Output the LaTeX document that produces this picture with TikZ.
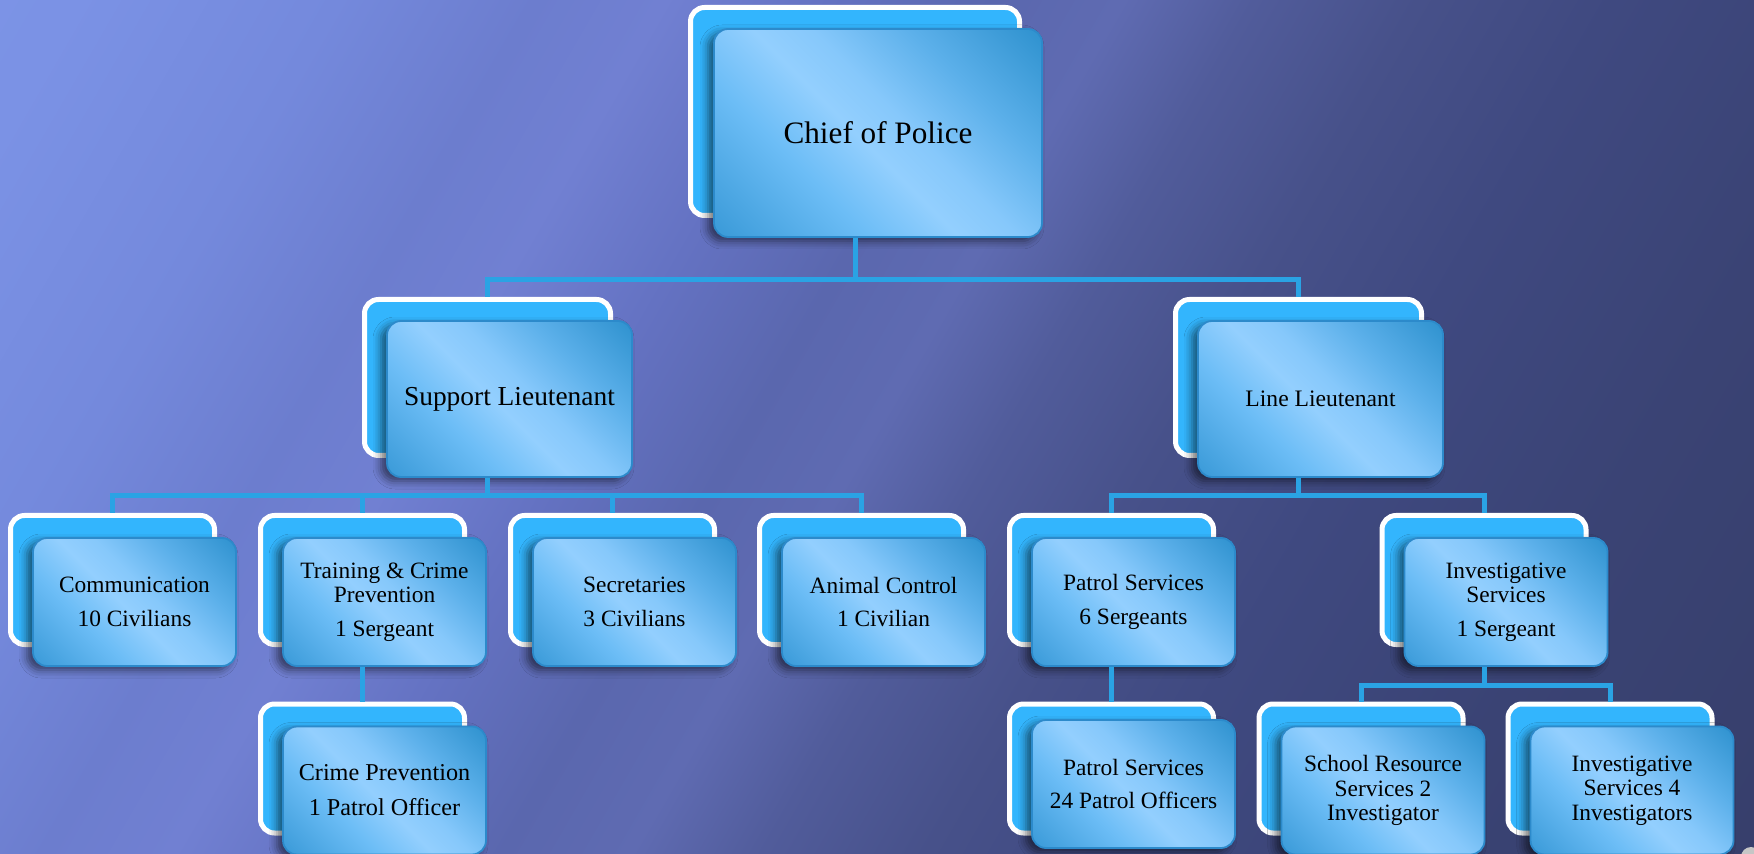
\documentclass[tikz,border=0pt]{standalone}
\usepackage{fontspec}
\setmainfont{Liberation Serif}
\usetikzlibrary{shadows.blur}
\definecolor{backblue}{HTML}{33B5FD}
\definecolor{frontedge}{HTML}{2C8ACB}
\definecolor{connblue}{HTML}{2AA3E4}
\definecolor{fA}{HTML}{3A9AD8}
\definecolor{fB}{HTML}{6CBDF6}
\definecolor{fC}{HTML}{93CFFE}
\definecolor{fD}{HTML}{86C8FB}
\definecolor{fE}{HTML}{5CB0EA}
\definecolor{fF}{HTML}{2F92CF}
\definecolor{bgA}{HTML}{8099EA}
\definecolor{bgB}{HTML}{7B92E5}
\definecolor{bgC}{HTML}{7489DC}
\definecolor{bgD}{HTML}{6C7DCE}
\definecolor{bgE}{HTML}{7180D2}
\definecolor{bgF}{HTML}{6472C2}
\definecolor{bgG}{HTML}{5A67AE}
\definecolor{bgH}{HTML}{5F6BB2}
\definecolor{bgI}{HTML}{515C9B}
\definecolor{bgJ}{HTML}{47518A}
\definecolor{bgK}{HTML}{3F4980}
\definecolor{bgL}{HTML}{3A4374}
\definecolor{bgM}{HTML}{373F6C}
\pgfdeclarehorizontalshading{frontshade}{100bp}{color(0bp)=(fA); color(15bp)=(fA); color(35bp)=(fB); color(47bp)=(fC); color(55bp)=(fD); color(68bp)=(fE); color(85bp)=(fF); color(100bp)=(fF)}
\pgfdeclarehorizontalshading{bgshade}{100bp}{color(0bp)=(bgA); color(18bp)=(bgB); color(26bp)=(bgC); color(32bp)=(bgD); color(36bp)=(bgE); color(41bp)=(bgF); color(46bp)=(bgG); color(50bp)=(bgH); color(54bp)=(bgI); color(59bp)=(bgJ); color(65bp)=(bgK); color(74bp)=(bgL); color(84bp)=(bgM); color(100bp)=(bgM)}
\tikzset{
  backbox/.style={draw=white, line width=2.5pt, fill=backblue, rounded corners=7pt, inner sep=0pt},
  frontbox/.style={draw=frontedge, line width=0.9pt, shading=frontshade, shading angle=45,
    rounded corners=7pt, inner sep=0pt, align=center, text=black,
    blur shadow={shadow xshift=-3pt, shadow yshift=-2pt, shadow blur radius=4pt, shadow opacity=55}},
  bk0/.style={backbox, minimum width=164.5pt, minimum height=104pt},
  fr0/.style={frontbox, minimum width=164pt, minimum height=104pt, font=\fontsize{15.6}{19}\selectfont},
  bk1/.style={backbox, minimum width=123pt, minimum height=78pt},
  fr1/.style={frontbox, minimum width=122.5pt, minimum height=78pt},
  bk2/.style={backbox, minimum width=102pt, minimum height=64.5pt},
  fr2/.style={frontbox, minimum width=101.5pt, minimum height=64pt, font=\fontsize{11.7}{12.2}\selectfont},
  conn/.style={draw=connblue, line width=2.5pt},
}
\begin{document}
\begin{tikzpicture}[x=0.5pt, y=-0.5pt]
\useasboundingbox (0,0) rectangle (1754,854);
\fill[bgI] (0,0) rectangle (1754,854);
\shade[shading=bgshade, shading angle=-30] (0,0) rectangle (1754,854);

% level 0
\node[bk0] (chiefb) at (855,111.5) {};
\node[fr0] (chief) at (878,133) {Chief of Police};

% level 1
\node[bk1] (supb) at (487.5,377.5) {};
\node[fr1, font=\fontsize{13.7}{15}\selectfont] (sup) at (509.5,399) {Support Lieutenant};
\node[bk1] (lineb) at (1298.5,377.5) {};
\node[fr1, font=\fontsize{11.8}{13}\selectfont] (line) at (1320.5,399) {Line Lieutenant};

% level 2
\node[bk2] (commb) at (112.5,580) {};
\node[fr2] (comm) at (134.5,602) {Communication\\[4.5pt]10 Civilians};
\node[bk2] (trainb) at (362.5,580) {};
\node[fr2] (train) at (384.5,602) {Training \& Crime\\Prevention\\[4.5pt]1 Sergeant};
\node[bk2] (secrb) at (612.5,580) {};
\node[fr2] (secr) at (634.5,602) {Secretaries\\[4.5pt]3 Civilians};
\node[bk2] (animb) at (861.5,580) {};
\node[fr2] (anim) at (883.5,602) {Animal Control\\[4.5pt]1 Civilian};
\node[bk2] (patrb) at (1111.5,580) {};
\node[fr2] (patr) at (1133.5,602) {Patrol Services\\[4.5pt]6 Sergeants};
\node[bk2] (invb) at (1484,580) {};
\node[fr2] (inv) at (1506,602) {Investigative\\Services\\[4.5pt]1 Sergeant};

% level 3
\node[bk2] (crimeb) at (362.5,768.5) {};
\node[fr2, font=\fontsize{12.1}{13}\selectfont] (crime) at (384.5,790.5) {Crime Prevention\\[4.5pt]1 Patrol Officer};
\node[bk2] (patrxb) at (1111.5,768.5) {};
\node[fr2] (patrx) at (1133.5,784) {Patrol Services\\[4.5pt]24 Patrol Officers};
\node[bk2] (schoolb) at (1361,768.5) {};
\node[fr2] (school) at (1383,790.5) {School Resource\\Services 2\\Investigator};
\node[bk2] (invxb) at (1610,768.5) {};
\node[fr2] (invx) at (1632,790.5) {Investigative\\Services 4\\Investigators};

% navigation dot
\fill[color=gray!45] (1751,857) circle[radius=10];

% connectors (they run only in the gaps between boxes)
\coordinate (bus0) at (0,280);
\coordinate (bus1) at (0,496);
\coordinate (bus2) at (0,685);
\draw[conn] (chiefb.south |- chief.south) -- (chiefb.south |- bus0) -| (supb.north);
\draw[conn] (chiefb.south |- bus0) -| (lineb.north);
\draw[conn] (supb.south |- sup.south) -- (supb.south |- bus1) -| (commb.north);
\draw[conn] (supb.south |- bus1) -| (animb.north);
\draw[conn] (trainb.north |- bus1) -- (trainb.north);
\draw[conn] (secrb.north |- bus1) -- (secrb.north);
\draw[conn] (lineb.south |- line.south) -- (lineb.south |- bus1) -| (patrb.north);
\draw[conn] (lineb.south |- bus1) -| (invb.north);
\draw[conn] (trainb.south |- train.south) -- (crimeb.north);
\draw[conn] (patrb.south |- patr.south) -- (patrxb.north);
\draw[conn] (invb.south |- inv.south) -- (invb.south |- bus2) -| (schoolb.north);
\draw[conn] (invb.south |- bus2) -| (invxb.north);
\end{tikzpicture}
\end{document}
